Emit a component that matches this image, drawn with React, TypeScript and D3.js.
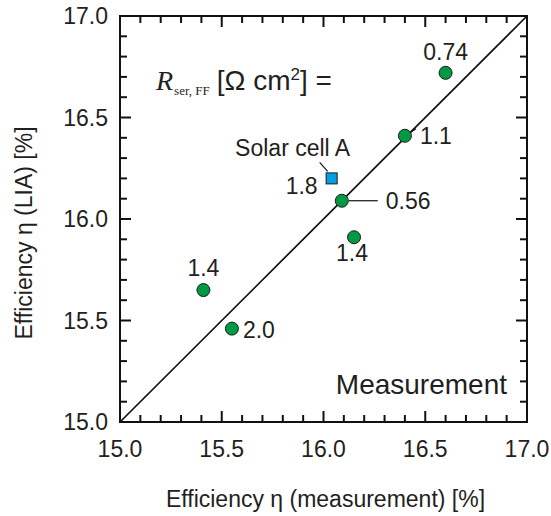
import React from "react";
import * as d3 from "d3";

// ---- data ----
const etaMeasurement = [16.6, 16.4, 16.09, 16.15, 15.41, 15.55];
const etaLIA = [16.72, 16.41, 16.09, 15.91, 15.65, 15.46];
const rserLabels = ["0.74", "1.1", "0.56", "1.4", "1.4", "2.0"];
const cellAMeasurement = [16.04];
const cellALIA = [16.2];
const cellALabels = ["1.8"];
const axisTicks = [15.0, 15.5, 16.0, 16.5, 17.0];

// ---- layout (label placement relative to markers) ----
const labelPlacement = [
  { dx: 0, dy: -13, anchor: "middle", leader: null },
  { dx: 15, dy: 8, anchor: "start", leader: [5, -3, 11, -7] },
  { dx: 44, dy: 8, anchor: "start", leader: [7, 0, 36, 0] },
  { dx: -2, dy: 24, anchor: "middle", leader: null },
  { dx: 0, dy: -14, anchor: "middle", leader: null },
  { dx: 11, dy: 9, anchor: "start", leader: null },
];

const W = 551;
const H = 516;
const M = { left: 120, right: 527, top: 16, bottom: 422 };
const FONT = "'Liberation Sans', Arial, Helvetica, sans-serif";
const SERIF = "'Liberation Serif', 'Times New Roman', serif";
const TXT = "#231f20";

export default function App() {
  const x = d3.scaleLinear().domain([15, 17]).range([M.left, M.right]);
  const y = d3.scaleLinear().domain([15, 17]).range([M.bottom, M.top]);
  const minor = d3.range(0, 21).map((i) => 15 + i * 0.1);
  const isMajor = (v: number) => Math.abs(v * 2 - Math.round(v * 2)) < 1e-6;
  const diag = d3.line<number>().x((v) => x(v)).y((v) => y(v));

  return (
    <svg
      width={W}
      height={H}
      style={{ position: "absolute", left: 0, top: 0, background: "#fff" }}
      fontFamily={FONT}
    >
      <rect width={W} height={H} fill="#fff" />
      {/* diagonal */}
      <path d={diag([15, 17]) || ""} stroke="#111" strokeWidth={1.7} fill="none" />

      {/* ticks */}
      {minor.map((v, i) => {
        const len = isMajor(v) ? 11 : 7;
        const px = x(v);
        const py = y(v);
        return (
          <g key={i} stroke="#111" strokeWidth={2}>
            <line x1={px} x2={px} y1={M.bottom} y2={M.bottom - len} />
            <line x1={px} x2={px} y1={M.top} y2={M.top + len} />
            <line x1={M.left} x2={M.left + len} y1={py} y2={py} />
            <line x1={M.right} x2={M.right - len} y1={py} y2={py} />
          </g>
        );
      })}
      <rect
        x={M.left}
        y={M.top}
        width={M.right - M.left}
        height={M.bottom - M.top}
        fill="none"
        stroke="#111"
        strokeWidth={2}
      />

      {/* tick labels */}
      {axisTicks.map((v) => (
        <g key={v} fill={TXT} fontSize={23}>
          <text x={x(v)} y={M.bottom + 35} textAnchor="middle">
            {d3.format(".1f")(v)}
          </text>
          <text x={M.left - 12} y={y(v) + 8} textAnchor="end">
            {d3.format(".1f")(v)}
          </text>
        </g>
      ))}

      {/* axis titles */}
      <text x={(M.left + M.right) / 2 + 2} y={507} textAnchor="middle" fontSize={23} fill={TXT}>
        Efficiency η (measurement) [%]
      </text>
      <text
        transform={`translate(32, ${233}) rotate(-90)`}
        textAnchor="middle"
        fontSize={23}
        fill={TXT}
      >
        Efficiency η (LIA) [%]
      </text>

      {/* R_ser label */}
      <text x={156} y={90} fill={TXT}>
        <tspan fontFamily={SERIF} fontStyle="italic" fontSize={28}>
          R
        </tspan>
        <tspan fontFamily={SERIF} fontSize={13} dy={5} dx={1}>
          ser, FF
        </tspan>
        <tspan fontSize={28} dy={-5} dx={7}>
          [Ω cm
        </tspan>
        <tspan fontSize={17} dy={-10}>
          2
        </tspan>
        <tspan fontSize={28} dy={10}>
          ] =
        </tspan>
      </text>

      {/* leader lines & labels for circles */}
      {etaMeasurement.map((v, i) => {
        const p = labelPlacement[i];
        const cx = x(v);
        const cy = y(etaLIA[i]);
        return (
          <g key={i}>
            {p.leader && (
              <line
                x1={cx + p.leader[0]}
                y1={cy + p.leader[1]}
                x2={cx + p.leader[2]}
                y2={cy + p.leader[3]}
                stroke="#111"
                strokeWidth={1.2}
              />
            )}
            <text x={cx + p.dx} y={cy + p.dy} textAnchor={p.anchor as any} fontSize={23} fill={TXT}>
              {rserLabels[i]}
            </text>
          </g>
        );
      })}

      {/* solar cell A */}
      {cellAMeasurement.map((v, i) => {
        const cx = x(v);
        const cy = y(cellALIA[i]);
        return (
          <g key={i}>
            <line x1={cx - 12} y1={cy - 16} x2={cx - 4} y2={cy - 7} stroke="#111" strokeWidth={1.2} />
            <text x={cx - 39} y={cy - 22} textAnchor="middle" fontSize={23} fill={TXT}>
              Solar cell A
            </text>
            <text x={cx - 14} y={cy + 16} textAnchor="end" fontSize={23} fill={TXT}>
              {cellALabels[i]}
            </text>
            <rect x={cx - 5.5} y={cy - 5.5} width={11} height={11} fill="#00a0e3" stroke="#1a1a1a" strokeWidth={1} />
          </g>
        );
      })}

      {/* circles */}
      {etaMeasurement.map((v, i) => (
        <circle key={i} cx={x(v)} cy={y(etaLIA[i])} r={6.5} fill="#009a44" stroke="#1a1a1a" strokeWidth={1} />
      ))}

      <text x={507} y={394} textAnchor="end" fontSize={28} fill={TXT}>
        Measurement
      </text>
    </svg>
  );
}
